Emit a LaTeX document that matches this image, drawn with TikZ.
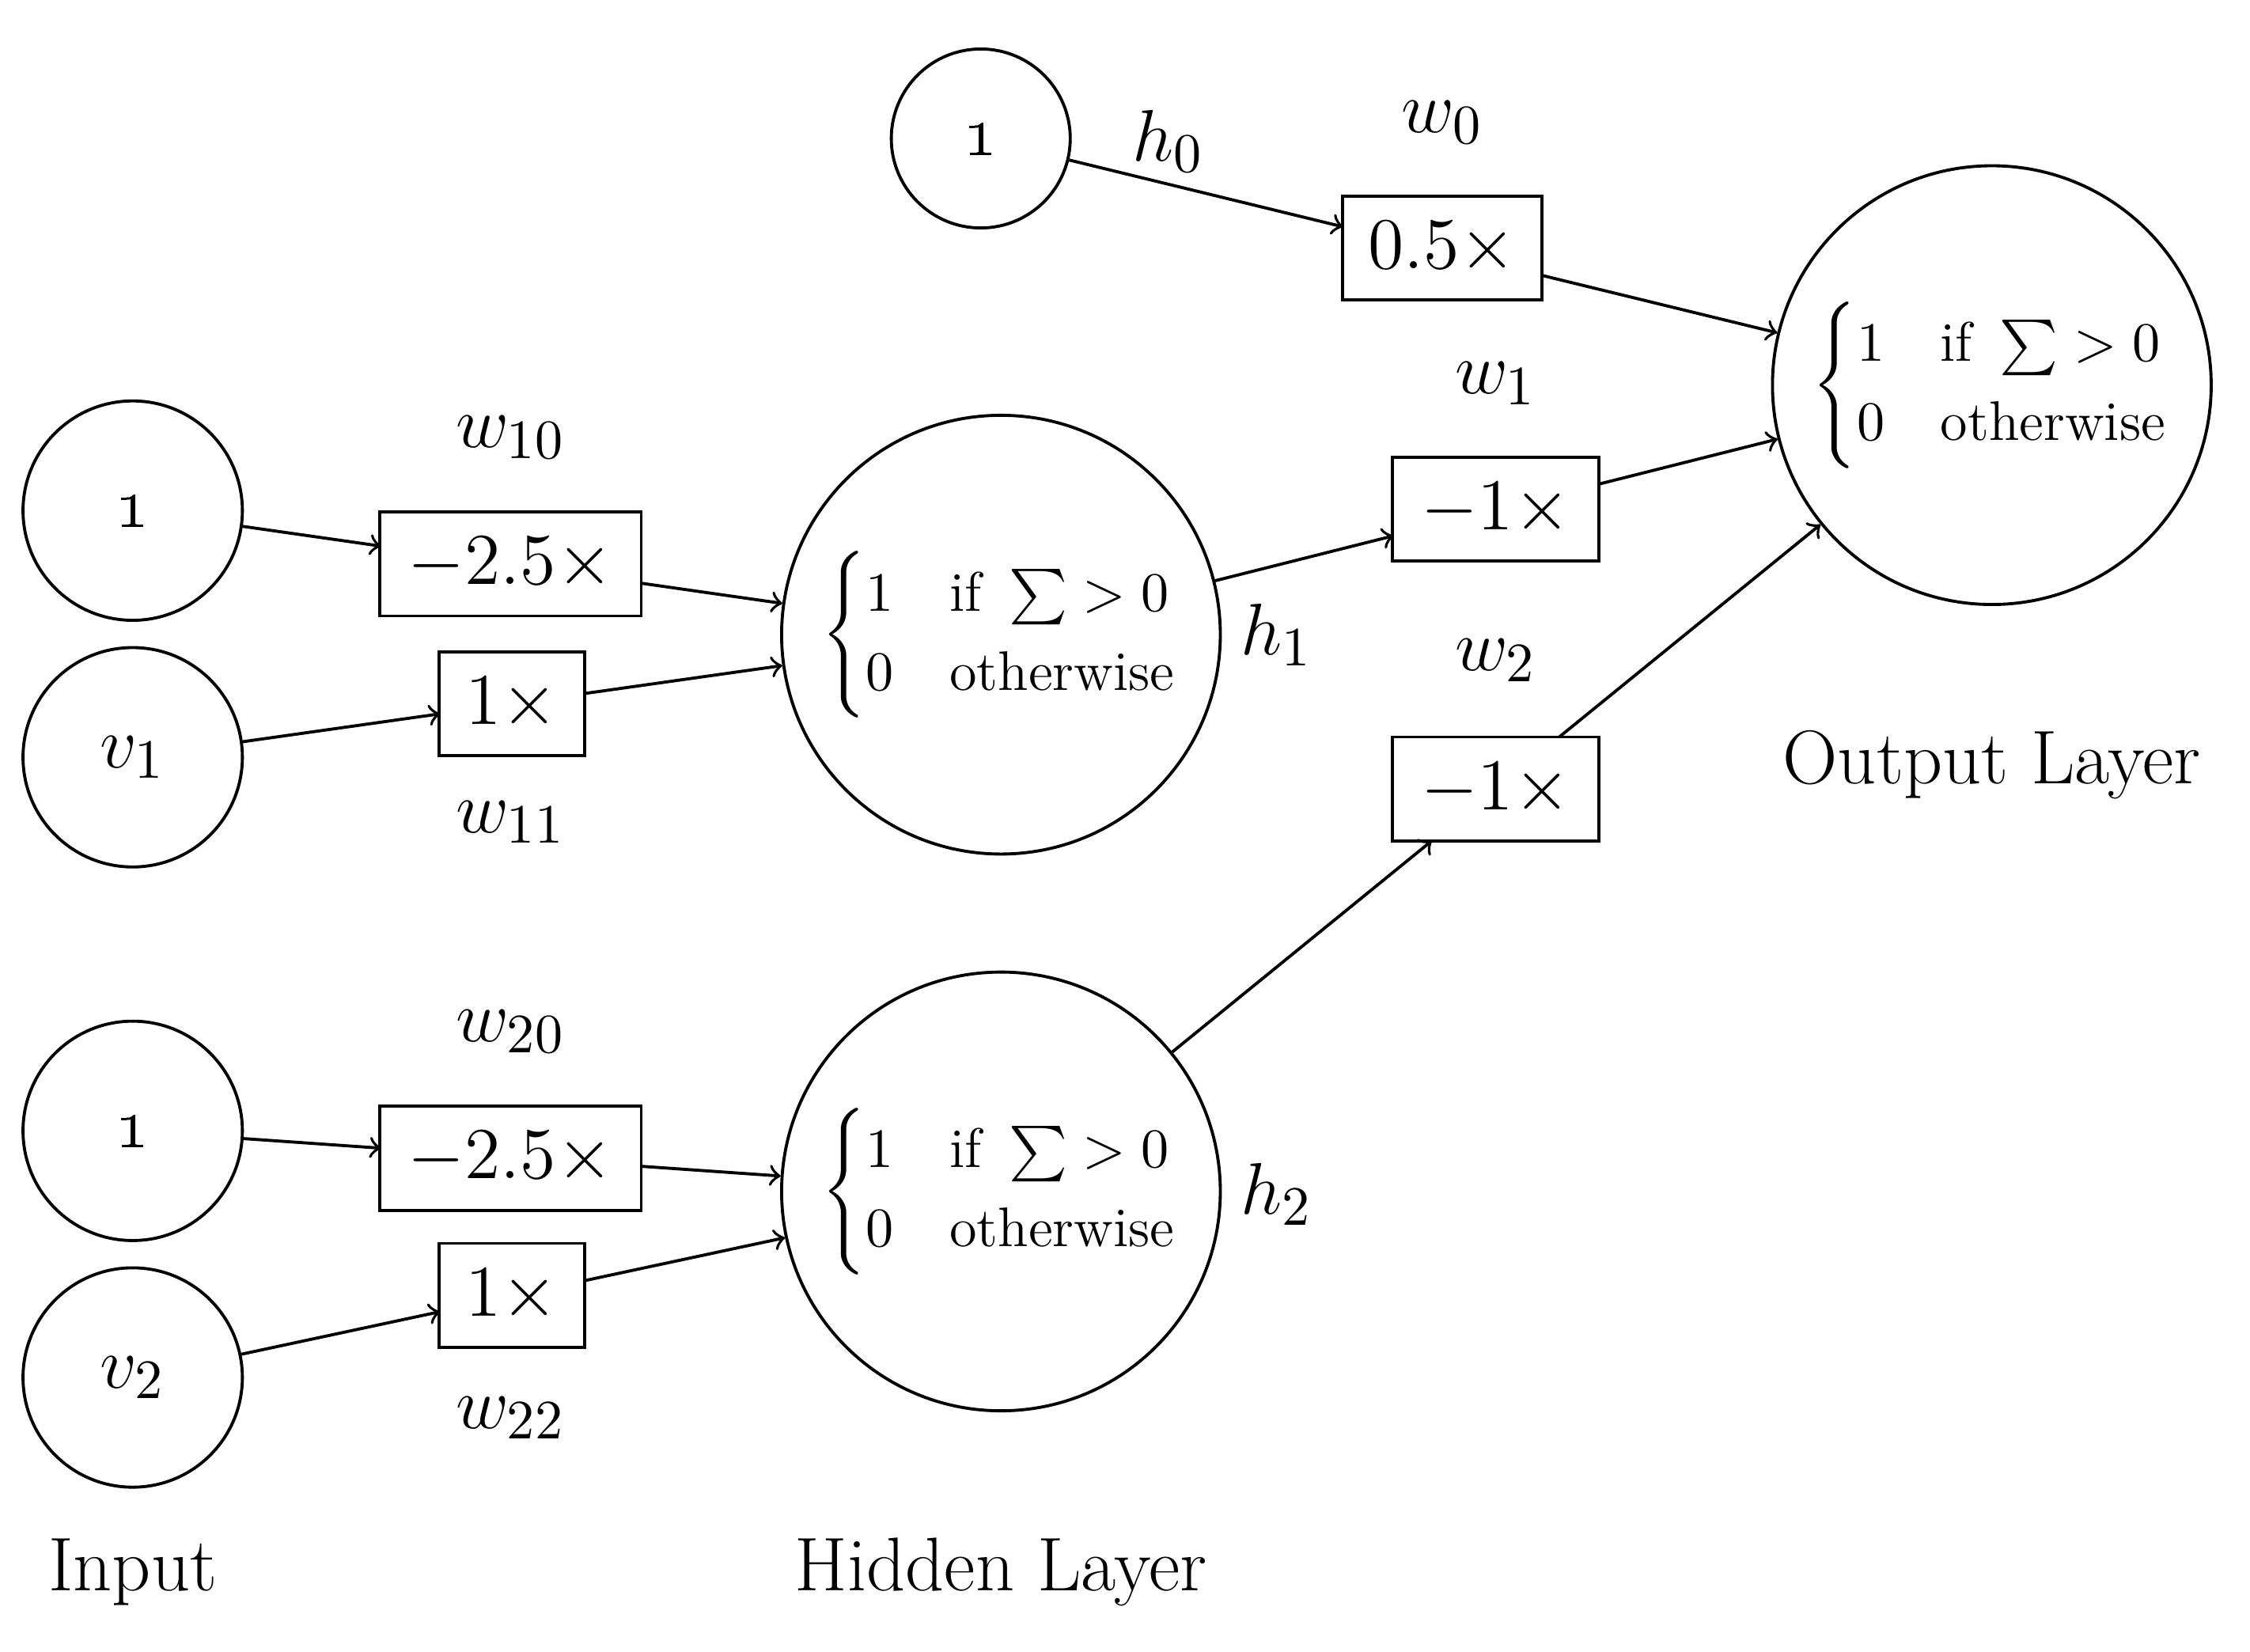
\documentclass[tikz,border=0pt]{standalone}
\usepackage{amsmath}
\begin{document}
\begin{tikzpicture}[x=0.01cm,y=-0.01cm,line width=0.6pt,
  big/.style={font=\fontsize{15}{18}\selectfont},
  inp/.style={circle,draw,minimum size=1.52cm,inner sep=0pt,big},
  neu/.style={circle,draw,minimum size=3.04cm,inner sep=0pt,font=\fontsize{11}{13}\selectfont},
  wbox/.style={draw,rectangle,inner sep=0pt,minimum height=0.72cm,big},
  lab/.style={big},
  arr/.style={->}]
\useasboundingbox (0,0) rectangle (1560,1145);
\newcommand{\pw}{$\begin{cases}1 & \text{if } \sum > 0\\ 0 & \text{otherwise}\end{cases}$}
% nodes
\node[inp] (i1) at (92,354) {\oldstylenums{1}};
\node[inp] (v1) at (92,525) {$v_1$};
\node[inp] (i2) at (92,784) {\oldstylenums{1}};
\node[inp] (v2) at (92,955) {$v_2$};
\node[inp,minimum size=1.24cm] (c0) at (680,96) {\oldstylenums{1}};
\node[neu] (h1) at (694,440) {\pw};
\node[neu] (h2) at (694,826) {\pw};
\node[neu] (o) at (1381,267) {\pw};
\node[wbox,minimum width=1.81cm] (b10) at (354,391) {$-2.5\times$};
\node[wbox,minimum width=1.01cm] (b11) at (355,488) {$1\times$};
\node[wbox,minimum width=1.81cm] (b20) at (354,803) {$-2.5\times$};
\node[wbox,minimum width=1.01cm] (b22) at (355,898) {$1\times$};
\node[wbox,minimum width=1.38cm] (b0) at (1000,172) {$0.5\times$};
\node[wbox,minimum width=1.43cm] (b1) at (1037,353) {$-1\times$};
\node[wbox,minimum width=1.43cm] (b2) at (1037,547) {$-1\times$};
% labels
\node[lab] (lw10) at (354,303) {$w_{10}$};
\node[lab] (lw11) at (354,570) {$w_{11}$};
\node[lab] (lw20) at (354,715) {$w_{20}$};
\node[lab] (lw22) at (354,983) {$w_{22}$};
\node[lab] (lw0) at (1000,85) {$w_{0}$};
\node[lab] (lw1) at (1037,266) {$w_{1}$};
\node[lab] (lw2) at (1037,458) {$w_{2}$};
\node[lab] (lh0) at (810,98) {$h_{0}$};
\node[lab] (lh1) at (885,440) {$h_{1}$};
\node[lab] (lh2) at (885,828) {$h_{2}$};
\node[lab] (tin) at (92,1090) {Input};
\node[lab] (thid) at (694,1090) {Hidden Layer};
\node[lab] (tout) at (1381,530) {Output Layer};
% connector points
\coordinate (p1a) at (264,378.6); \coordinate (p1b) at (445,404.4);
\coordinate (p2a) at (305,494.9); \coordinate (p2b) at (406,480.7);
\coordinate (p3a) at (264,796); \coordinate (p3b) at (445,808.6);
\coordinate (p4a) at (305,909.4); \coordinate (p4b) at (406,887.7);
\coordinate (p5a) at (931,157.2); \coordinate (p5b) at (1069,190.9);
\coordinate (p6a) at (966,371.5); \coordinate (p6b) at (1109,335.5);
\coordinate (p7a) at (992.6,583); \coordinate (p7b) at (1081,511);
\draw[arr] (i1) -- (p1a); \draw[arr] (p1b) -- (h1);
\draw[arr] (v1) -- (p2a); \draw[arr] (p2b) -- (h1);
\draw[arr] (i2) -- (p3a); \draw[arr] (p3b) -- (h2);
\draw[arr] (v2) -- (p4a); \draw[arr] (p4b) -- (h2);
\draw[arr] (c0) -- (p5a); \draw[arr] (p5b) -- (o);
\draw[arr] (h1) -- (p6a); \draw[arr] (p6b) -- (o);
\draw[arr] (h2) -- (p7a); \draw[arr] (p7b) -- (o);
\end{tikzpicture}
\end{document}
